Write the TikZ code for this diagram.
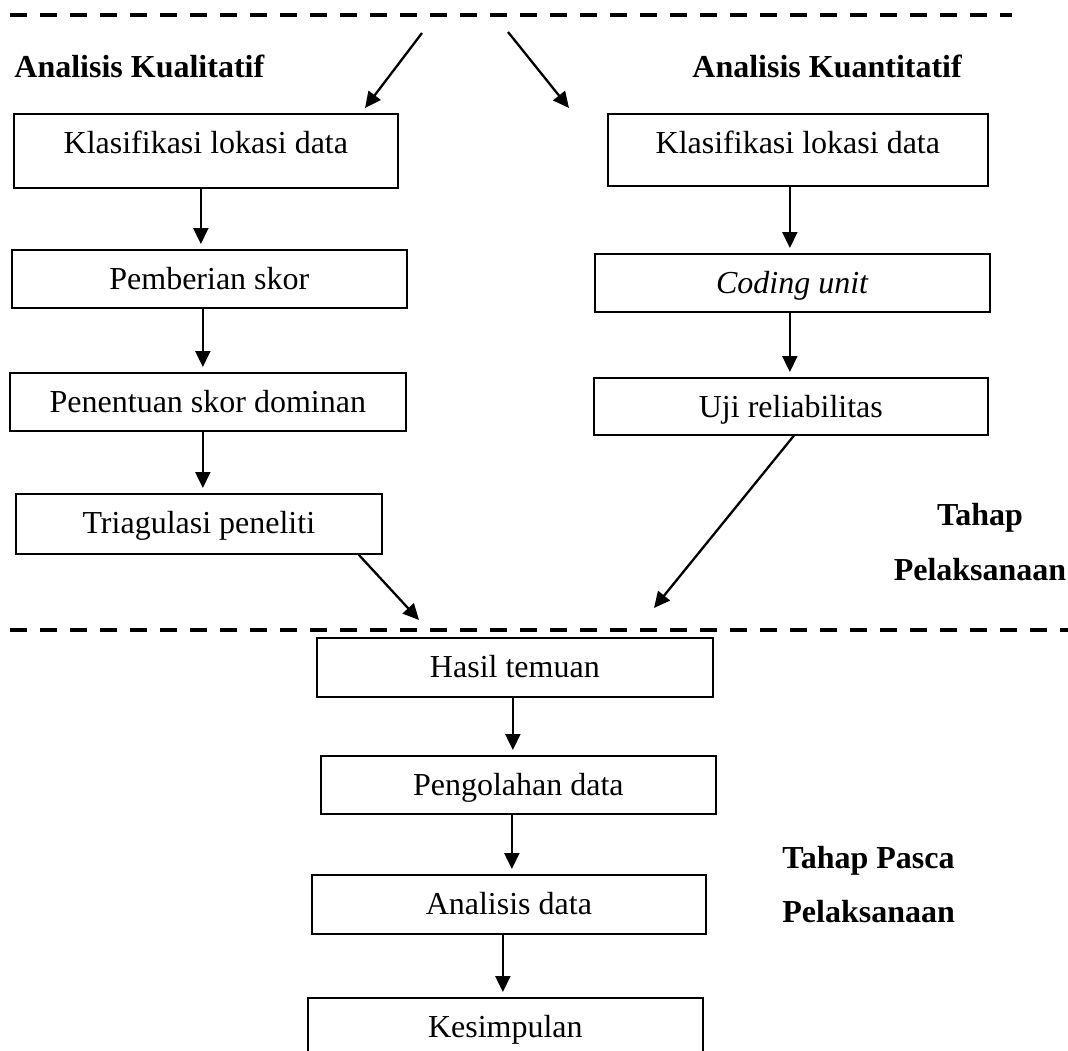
\documentclass[tikz,border=0pt]{standalone}
\usepackage{fontspec}
\setmainfont{Liberation Serif}
\usetikzlibrary{arrows.meta,calc}
\begin{document}
\begin{tikzpicture}[x=0.5pt,y=-0.5pt,
  every node/.style={font=\fontsize{16}{19}\selectfont},
  flowbox/.style={draw, line width=0.85pt, inner sep=0pt, anchor=north west, text height=20pt, align=center},
  arr/.style={line width=1.15pt, -{Triangle[length=8pt,width=7.5pt]}, shorten >=2.5pt},
  diag/.style={line width=1.15pt, -{Triangle[length=8pt,width=7.5pt]}},
  sep/.style={line width=2.1pt, dash pattern=on 8.5pt off 6.5pt},
  lbl/.style={font=\fontsize{16}{19}\selectfont\bfseries, inner sep=0pt}]
\useasboundingbox (0,0) rectangle (1068,1050);
\clip (0,0) rectangle (1068,1050);

% separators
\coordinate (d1a) at (10,15);
\coordinate (d1b) at (1012,15);
\coordinate (d2a) at (10,630);
\coordinate (d2b) at (1068,630);
\draw[sep] (d1a) -- (d1b);
\draw[sep] (d2a) -- (d2b);

% labels
\node[lbl, anchor=base west] (lq) at (14,77) {Analisis Kualitatif};
\node[lbl, anchor=base west] (lk) at (692,77) {Analisis Kuantitatif};
\node[lbl, anchor=base] (t1) at (980,525) {Tahap};
\node[lbl, anchor=base] (t2) at (980,580) {Pelaksanaan};
\node[lbl, anchor=base west] (t3) at (782,868) {Tahap Pasca};
\node[lbl, anchor=base west] (t4) at (782,922) {Pelaksanaan};

% left column
\node[flowbox, minimum width=192pt, text depth=17pt] (L1) at (13,113) {Klasifikasi lokasi data};
\node[flowbox, minimum width=197.5pt, text depth=9pt] (L2) at (11,249) {Pemberian skor};
\node[flowbox, minimum width=198pt, text depth=9pt] (L3) at (9,372) {Penentuan skor dominan};
\node[flowbox, minimum width=183pt, text depth=10pt] (L4) at (15,493) {Triagulasi peneliti};

% right column
\node[flowbox, minimum width=190pt, text depth=16pt] (R1) at (607,113) {Klasifikasi lokasi data};
\node[flowbox, minimum width=197.5pt, text depth=9pt] (R2) at (594,253) {\textit{Coding unit}};
\node[flowbox, minimum width=197pt, text depth=8.5pt] (R3) at (593,377) {Uji reliabilitas};

% bottom column
\node[flowbox, minimum width=198pt, text depth=9.5pt] (B1) at (316,637) {Hasil temuan};
\node[flowbox, minimum width=197.5pt, text depth=9pt] (B2) at (320,755) {Pengolahan data};
\node[flowbox, minimum width=197pt, text depth=9.5pt] (B3) at (311,874) {Analisis data};
\node[flowbox, minimum width=197.5pt, text depth=15pt] (B4) at (307,997) {Kesimpulan};

% vertical arrows
\draw[arr] ($(L1.south)+(-5,0)$) coordinate (a1) -- (a1 |- L2.north);
\draw[arr] ($(L2.south)+(-6.5,0)$) coordinate (a2) -- (a2 |- L3.north);
\draw[arr] ($(L3.south)+(-5,0)$) coordinate (a3) -- (a3 |- L4.north);
\draw[arr] ($(R1.south)+(-8,0)$) coordinate (a4) -- (a4 |- R2.north);
\draw[arr] ($(R2.south)+(-2.5,0)$) coordinate (a5) -- (a5 |- R3.north);
\draw[arr] ($(B1.south)+(-2,0)$) coordinate (a6) -- (a6 |- B2.north);
\draw[arr] ($(B2.south)+(-6.5,0)$) coordinate (a7) -- (a7 |- B3.north);
\draw[arr] ($(B3.south)+(-6,0)$) coordinate (a8) -- (a8 |- B4.north);

% diagonal arrows
\coordinate (s1) at (422,33);
\coordinate (e1) at (365,108);
\coordinate (s2) at (508,32);
\coordinate (e2) at (569,108);
\coordinate (e3) at (419,620);
\coordinate (e4) at (654,608);
\draw[diag] (s1) -- (e1);
\draw[diag] (s2) -- (e2);
\draw[diag] ($(L4.south east)+(-24,0)$) -- (e3);
\draw[diag] ($(R3.south)+(3,0)$) -- (e4);
\end{tikzpicture}
\end{document}
